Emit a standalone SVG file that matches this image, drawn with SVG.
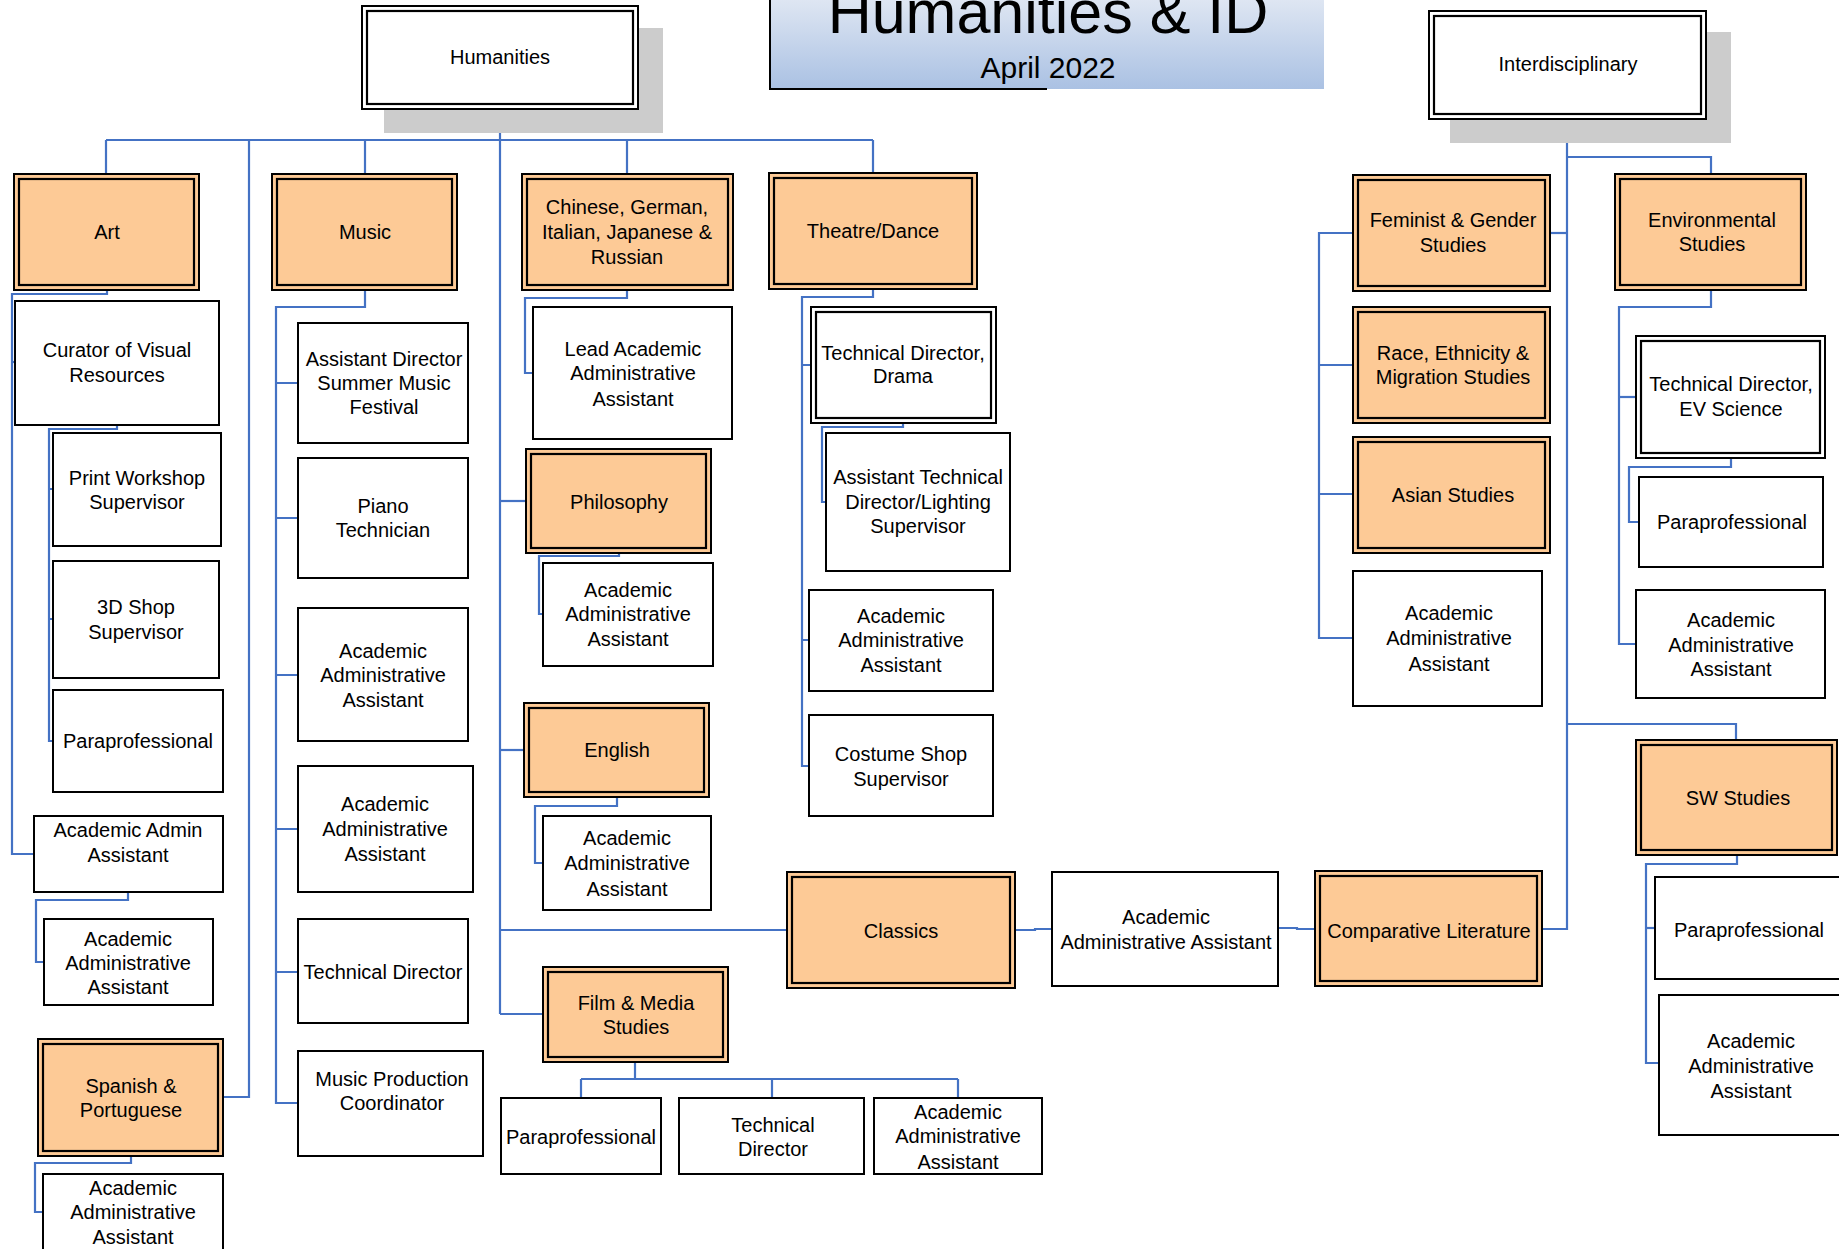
<svg xmlns="http://www.w3.org/2000/svg" width="1839" height="1249" viewBox="0 0 1839 1249">
<style>
.box{fill:#fff;stroke:#000;stroke-width:2}
.pch{fill:#FDCA96;stroke:#000;stroke-width:2}
.inr{fill:none;stroke:#000;stroke-width:2.2}
.shd{fill:#cccccc}
.conn path{fill:none;stroke:#4472C4;stroke-width:2.2}
text{font-family:"Liberation Sans",Arial,sans-serif;font-size:20px;text-anchor:middle;fill:#000}
</style>
<defs>
<linearGradient id="tg" x1="0" y1="0" x2="0" y2="1"><stop offset="0" stop-color="#e4eaf4"/><stop offset="1" stop-color="#aac1e3"/></linearGradient>
</defs>
<rect width="1839" height="1249" fill="#fff"/>

<g id="title">
<rect x="770" y="-10" width="554" height="99" fill="url(#tg)"/>
<path d="M770,-10V89H1047" fill="none" stroke="#000" stroke-width="2"/>
<text x="1048" y="33" style="font-size:61px">Humanities &amp; ID</text>
<text x="1048" y="78" style="font-size:30px">April 2022</text>
</g>

<g class="conn" id="connectors">
<path d="M500,109V1014"/>
<path d="M106,140H873"/>
<path d="M106,140V174"/>
<path d="M249,140V1097H223"/>
<path d="M365,140V174"/>
<path d="M627,140V174"/>
<path d="M873,140V173"/>
<path d="M500,501H526"/>
<path d="M500,750H524"/>
<path d="M500,930H787"/>
<path d="M500,1014H543"/>
<path d="M107,290V294H12V854H34"/>
<path d="M12,362H15"/>
<path d="M117,425V429H49V741H53"/>
<path d="M49,489H53M49,619H53"/>
<path d="M128,892V900H36V962H44"/>
<path d="M131,1156V1163H35V1212H43"/>
<path d="M365,290V307H276V1103H298"/>
<path d="M276,383H298M276,518H298M276,675H298M276,829H298M276,972H298"/>
<path d="M627,290V298H525V373H533"/>
<path d="M619,553V556H539V614H543"/>
<path d="M617,797V806H535V863H543"/>
<path d="M635,1062V1079M581,1079H958M581,1079V1098M772,1079V1098M958,1079V1098"/>
<path d="M873,289V297H802V766H809"/>
<path d="M802,365H811M802,640H809"/>
<path d="M903,423V427H822V502H826"/>
<path d="M1015,930H1035V929H1052"/>
<path d="M1278,928H1297V929H1315"/>
<path d="M1542,929H1567V119"/>
<path d="M1567,157H1711V174"/>
<path d="M1567,233H1550"/>
<path d="M1353,233H1319V638H1353"/>
<path d="M1319,365H1353M1319,494H1353"/>
<path d="M1567,724H1736V740"/>
<path d="M1711,290V307H1619V644H1636"/>
<path d="M1619,397H1636"/>
<path d="M1731,458V467H1629V522H1639"/>
<path d="M1737,855V864H1646V1063H1659"/>
<path d="M1646,928H1655"/>
</g>

<g id="humanities">
<rect class="shd" x="384" y="28" width="279" height="105"/>
<rect class="box" x="362" y="6" width="276" height="103"/>
<rect class="inr" x="367" y="11" width="266" height="93"/>
<text x="500" y="64">Humanities</text>
</g>
<g id="interdisciplinary">
<rect class="shd" x="1450" y="32" width="281" height="111"/>
<rect class="box" x="1429" y="11" width="277" height="108"/>
<rect class="inr" x="1434" y="16" width="267" height="98"/>
<text x="1568" y="71">Interdisciplinary</text>
</g>

<g id="art">
<rect class="pch" x="14" y="174" width="185" height="116"/><rect class="inr" x="19" y="179" width="175" height="106"/>
<text x="107" y="239">Art</text>
</g>
<g id="music">
<rect class="pch" x="272" y="174" width="185" height="116"/><rect class="inr" x="277" y="179" width="175" height="106"/>
<text x="365" y="239">Music</text>
</g>
<g id="languages">
<rect class="pch" x="522" y="174" width="211" height="116"/><rect class="inr" x="527" y="179" width="201" height="106"/>
<text x="627"><tspan x="627" y="214">Chinese, German,</tspan><tspan x="627" y="239">Italian, Japanese &amp;</tspan><tspan x="627" y="264">Russian</tspan></text>
</g>
<g id="theatre">
<rect class="pch" x="769" y="173" width="208" height="116"/><rect class="inr" x="774" y="178" width="198" height="106"/>
<text x="873" y="238">Theatre/Dance</text>
</g>

<g id="curator">
<rect class="box" x="15" y="301" width="204" height="124"/>
<text><tspan x="117" y="357">Curator of Visual</tspan><tspan x="117" y="382">Resources</tspan></text>
</g>
<g id="print">
<rect class="box" x="53" y="433" width="168" height="113"/>
<text><tspan x="137" y="485">Print Workshop</tspan><tspan x="137" y="509">Supervisor</tspan></text>
</g>
<g id="shop3d">
<rect class="box" x="53" y="561" width="166" height="117"/>
<text><tspan x="136" y="614">3D Shop</tspan><tspan x="136" y="639">Supervisor</tspan></text>
</g>
<g id="art-para">
<rect class="box" x="53" y="690" width="170" height="102"/>
<text x="138" y="748">Paraprofessional</text>
</g>
<g id="art-admin">
<rect class="box" x="34" y="816" width="189" height="76"/>
<text><tspan x="128" y="837">Academic Admin</tspan><tspan x="128" y="862">Assistant</tspan></text>
</g>
<g id="art-aaa">
<rect class="box" x="44" y="919" width="169" height="86"/>
<text><tspan x="128" y="946">Academic</tspan><tspan x="128" y="970">Administrative</tspan><tspan x="128" y="994">Assistant</tspan></text>
</g>
<g id="spanish">
<rect class="pch" x="38" y="1039" width="185" height="117"/><rect class="inr" x="43" y="1044" width="175" height="107"/>
<text><tspan x="131" y="1093">Spanish &amp;</tspan><tspan x="131" y="1117">Portuguese</tspan></text>
</g>
<g id="spanish-aaa">
<rect class="box" x="43" y="1174" width="180" height="82"/>
<text><tspan x="133" y="1195">Academic</tspan><tspan x="133" y="1219">Administrative</tspan><tspan x="133" y="1244">Assistant</tspan></text>
</g>

<g id="music-asstdir">
<rect class="box" x="298" y="323" width="170" height="120"/>
<text><tspan x="384" y="366">Assistant Director</tspan><tspan x="384" y="390">Summer Music</tspan><tspan x="384" y="414">Festival</tspan></text>
</g>
<g id="music-piano">
<rect class="box" x="298" y="458" width="170" height="120"/>
<text><tspan x="383" y="513">Piano</tspan><tspan x="383" y="537">Technician</tspan></text>
</g>
<g id="music-aaa1">
<rect class="box" x="298" y="608" width="170" height="133"/>
<text><tspan x="383" y="658">Academic</tspan><tspan x="383" y="682">Administrative</tspan><tspan x="383" y="707">Assistant</tspan></text>
</g>
<g id="music-aaa2">
<rect class="box" x="298" y="766" width="175" height="126"/>
<text><tspan x="385" y="811">Academic</tspan><tspan x="385" y="836">Administrative</tspan><tspan x="385" y="861">Assistant</tspan></text>
</g>
<g id="music-techdir">
<rect class="box" x="298" y="919" width="170" height="104"/>
<text x="383" y="979">Technical Director</text>
</g>
<g id="music-prod">
<rect class="box" x="298" y="1051" width="185" height="105"/>
<text><tspan x="392" y="1086">Music Production</tspan><tspan x="392" y="1110">Coordinator</tspan></text>
</g>

<g id="lang-lead">
<rect class="box" x="533" y="307" width="199" height="132"/>
<text><tspan x="633" y="356">Lead Academic</tspan><tspan x="633" y="380">Administrative</tspan><tspan x="633" y="406">Assistant</tspan></text>
</g>
<g id="philosophy">
<rect class="pch" x="526" y="449" width="185" height="104"/><rect class="inr" x="531" y="454" width="175" height="94"/>
<text x="619" y="509">Philosophy</text>
</g>
<g id="phil-aaa">
<rect class="box" x="543" y="563" width="170" height="103"/>
<text><tspan x="628" y="597">Academic</tspan><tspan x="628" y="621">Administrative</tspan><tspan x="628" y="646">Assistant</tspan></text>
</g>
<g id="english">
<rect class="pch" x="524" y="703" width="185" height="94"/><rect class="inr" x="529" y="708" width="175" height="84"/>
<text x="617" y="757">English</text>
</g>
<g id="english-aaa">
<rect class="box" x="543" y="816" width="168" height="94"/>
<text><tspan x="627" y="845">Academic</tspan><tspan x="627" y="870">Administrative</tspan><tspan x="627" y="896">Assistant</tspan></text>
</g>
<g id="film">
<rect class="pch" x="543" y="967" width="185" height="95"/><rect class="inr" x="548" y="972" width="175" height="85"/>
<text><tspan x="636" y="1010">Film &amp; Media</tspan><tspan x="636" y="1034">Studies</tspan></text>
</g>
<g id="film-para">
<rect class="box" x="501" y="1098" width="160" height="76"/>
<text x="581" y="1144">Paraprofessional</text>
</g>
<g id="film-techdir">
<rect class="box" x="679" y="1098" width="185" height="76"/>
<text><tspan x="773" y="1132">Technical</tspan><tspan x="773" y="1156">Director</tspan></text>
</g>
<g id="film-aaa">
<rect class="box" x="874" y="1098" width="168" height="76"/>
<text><tspan x="958" y="1119">Academic</tspan><tspan x="958" y="1143">Administrative</tspan><tspan x="958" y="1169">Assistant</tspan></text>
</g>

<g id="theatre-techdir">
<rect class="box" x="811" y="307" width="185" height="116"/><rect class="inr" x="816" y="312" width="175" height="106"/>
<text><tspan x="903" y="360">Technical Director,</tspan><tspan x="903" y="383">Drama</tspan></text>
</g>
<g id="theatre-asst">
<rect class="box" x="826" y="433" width="184" height="138"/>
<text><tspan x="918" y="484">Assistant Technical</tspan><tspan x="918" y="509">Director/Lighting</tspan><tspan x="918" y="533">Supervisor</tspan></text>
</g>
<g id="theatre-aaa">
<rect class="box" x="809" y="590" width="184" height="101"/>
<text><tspan x="901" y="623">Academic</tspan><tspan x="901" y="647">Administrative</tspan><tspan x="901" y="672">Assistant</tspan></text>
</g>
<g id="theatre-costume">
<rect class="box" x="809" y="715" width="184" height="101"/>
<text><tspan x="901" y="761">Costume Shop</tspan><tspan x="901" y="786">Supervisor</tspan></text>
</g>

<g id="classics">
<rect class="pch" x="787" y="872" width="228" height="116"/><rect class="inr" x="792" y="877" width="218" height="106"/>
<text x="901" y="938">Classics</text>
</g>
<g id="classics-aaa">
<rect class="box" x="1052" y="872" width="226" height="114"/>
<text><tspan x="1166" y="924">Academic</tspan><tspan x="1166" y="949">Administrative Assistant</tspan></text>
</g>
<g id="complit">
<rect class="pch" x="1315" y="871" width="227" height="115"/><rect class="inr" x="1320" y="876" width="217" height="105"/>
<text x="1429" y="938">Comparative Literature</text>
</g>

<g id="feminist">
<rect class="pch" x="1353" y="175" width="197" height="116"/><rect class="inr" x="1358" y="180" width="187" height="106"/>
<text><tspan x="1453" y="227">Feminist &amp; Gender</tspan><tspan x="1453" y="252">Studies</tspan></text>
</g>
<g id="race">
<rect class="pch" x="1353" y="307" width="197" height="116"/><rect class="inr" x="1358" y="312" width="187" height="106"/>
<text><tspan x="1453" y="360">Race, Ethnicity &amp;</tspan><tspan x="1453" y="384">Migration Studies</tspan></text>
</g>
<g id="asian">
<rect class="pch" x="1353" y="437" width="197" height="116"/><rect class="inr" x="1358" y="442" width="187" height="106"/>
<text x="1453" y="502">Asian Studies</text>
</g>
<g id="id-aaa">
<rect class="box" x="1353" y="571" width="189" height="135"/>
<text><tspan x="1449" y="620">Academic</tspan><tspan x="1449" y="645">Administrative</tspan><tspan x="1449" y="671">Assistant</tspan></text>
</g>
<g id="environmental">
<rect class="pch" x="1615" y="174" width="191" height="116"/><rect class="inr" x="1620" y="179" width="181" height="106"/>
<text><tspan x="1712" y="227">Environmental</tspan><tspan x="1712" y="251">Studies</tspan></text>
</g>
<g id="env-techdir">
<rect class="box" x="1636" y="336" width="189" height="122"/><rect class="inr" x="1641" y="341" width="179" height="112"/>
<text><tspan x="1731" y="391">Technical Director,</tspan><tspan x="1731" y="416">EV Science</tspan></text>
</g>
<g id="env-para">
<rect class="box" x="1639" y="477" width="184" height="90"/>
<text x="1732" y="529">Paraprofessional</text>
</g>
<g id="env-aaa">
<rect class="box" x="1636" y="590" width="189" height="108"/>
<text><tspan x="1731" y="627">Academic</tspan><tspan x="1731" y="652">Administrative</tspan><tspan x="1731" y="676">Assistant</tspan></text>
</g>
<g id="sw">
<rect class="pch" x="1636" y="740" width="201" height="115"/><rect class="inr" x="1641" y="745" width="191" height="105"/>
<text x="1738" y="805">SW Studies</text>
</g>
<g id="sw-para">
<rect class="box" x="1655" y="877" width="186" height="102"/>
<text x="1749" y="937">Paraprofessional</text>
</g>
<g id="sw-aaa">
<rect class="box" x="1659" y="995" width="182" height="140"/>
<text><tspan x="1751" y="1048">Academic</tspan><tspan x="1751" y="1073">Administrative</tspan><tspan x="1751" y="1098">Assistant</tspan></text>
</g>
</svg>
